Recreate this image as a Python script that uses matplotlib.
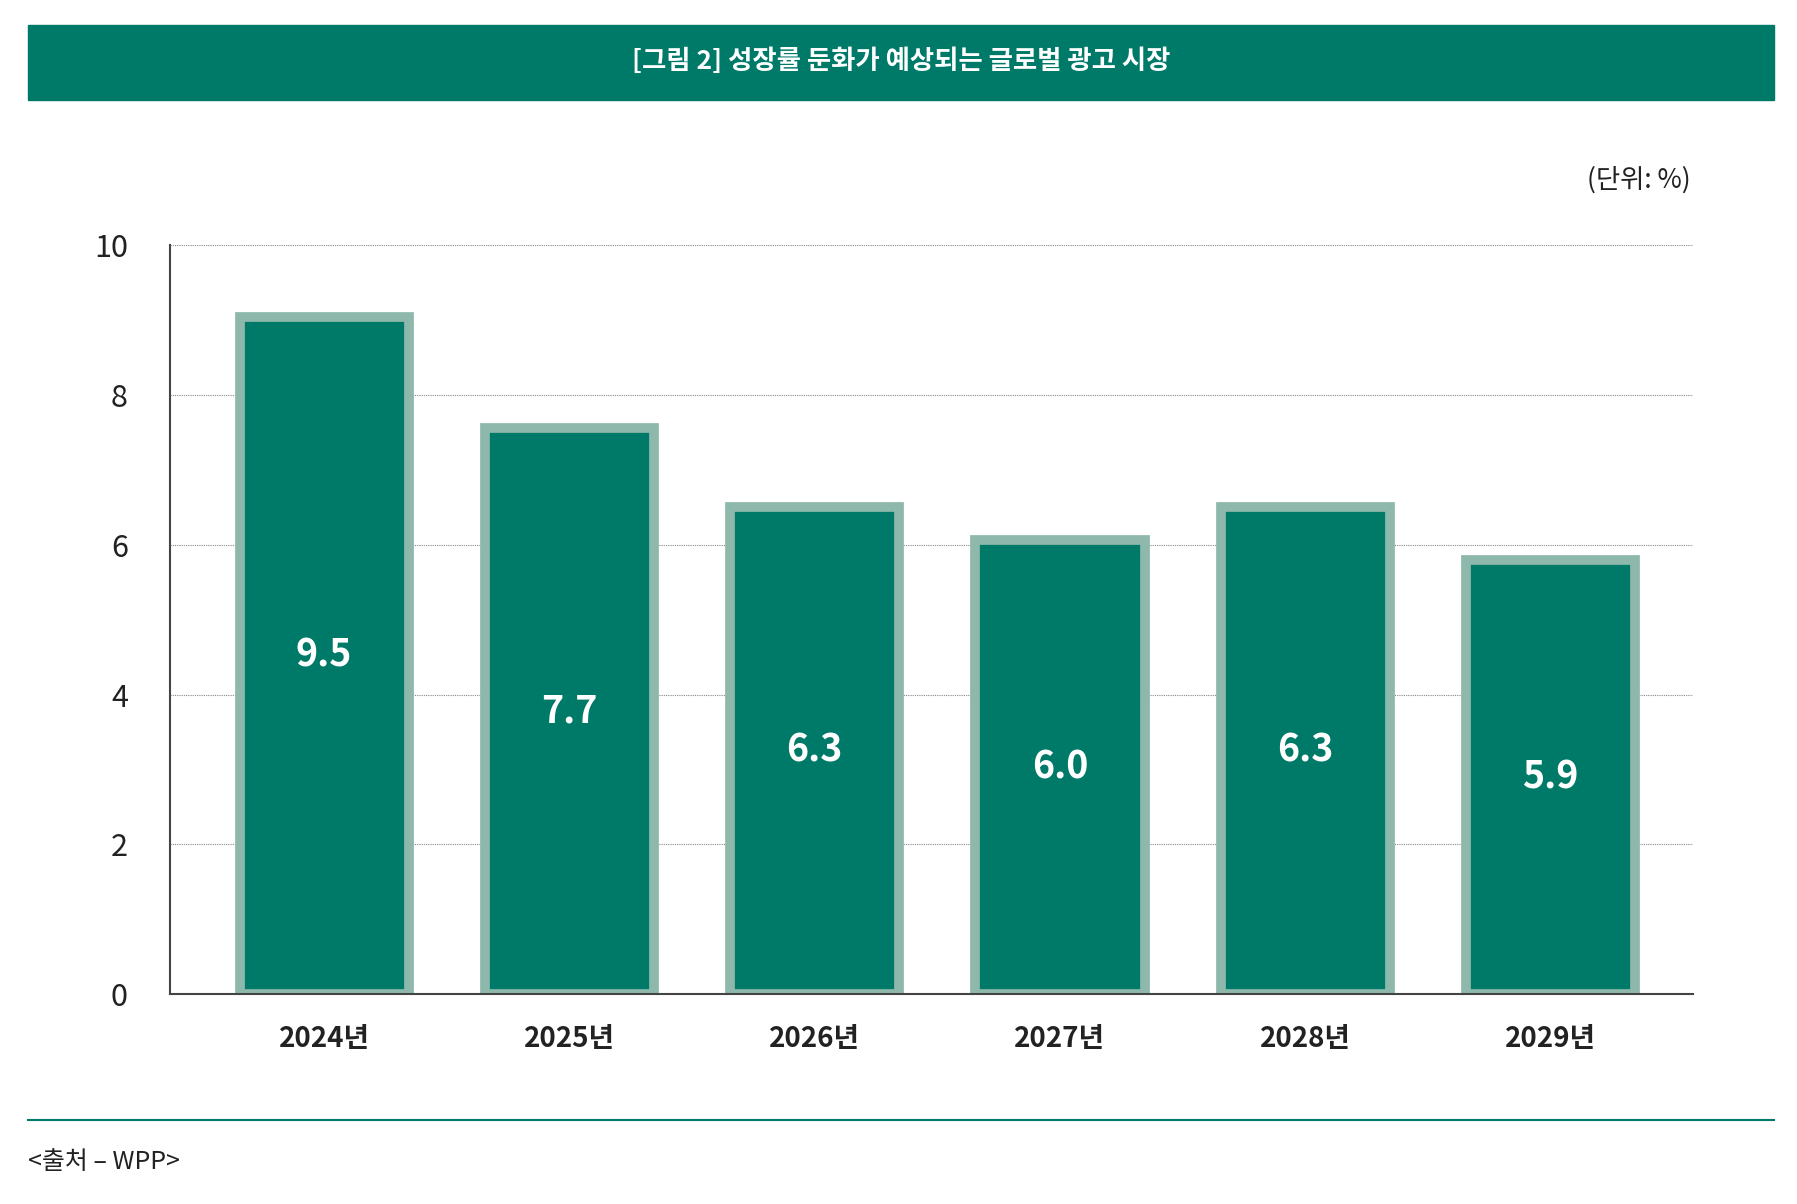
import matplotlib.pyplot as plt

plt.rcParams['font.family'] = ['Noto Sans CJK KR', 'DejaVu Sans']

years = ["2024년", "2025년", "2026년", "2027년", "2028년", "2029년"]
bar_heights = [9.05, 7.56, 6.51, 6.06, 6.51, 5.80]
value_labels = ["9.5", "7.7", "6.3", "6.0", "6.3", "5.9"]

W, H = 1568, 1050
green = "#007a68"
edge = "#8fb8ac"

fig = plt.figure(figsize=(17.97, 12.04), dpi=100)

# header band
fig.patches.append(plt.Rectangle((24 / W, 1 - 87 / H), (1548 - 24) / W, 65 / H,
                                 transform=fig.transFigure, color=green))
fig.text(786 / W, 1 - 54 / H, "[그림 2] 성장률 둔화가 예상되는 글로벌 광고 시장",
         color="white", fontsize=19, fontweight="bold", ha="center", va="center")

ax = fig.add_axes([148 / W, 1 - 867 / H, (1477 - 148) / W, (867 - 214) / H])
x = range(len(years))
ax.bar(x, bar_heights, width=0.69, color=green, edgecolor=edge, linewidth=7)
for i, (h, lab) in enumerate(zip(bar_heights, value_labels)):
    ax.text(i, h / 2, lab, color="white", fontsize=27, fontweight="bold",
            ha="center", va="center")

ax.set_xlim(-0.63, 5.58)
ax.set_ylim(0, 10)
ax.set_yticks([0, 2, 4, 6, 8, 10])
ax.set_xticks(list(x))
ax.set_xticklabels(years, fontsize=20, fontweight="bold", color="#222222")
ax.tick_params(axis="y", labelsize=22, length=0, pad=30, labelcolor="#222222")
ax.tick_params(axis="x", length=0, pad=22)
ax.grid(axis="y", color="#888888", linestyle=(0, (1, 1)), linewidth=0.8)
ax.set_axisbelow(True)
for s in ["top", "right"]:
    ax.spines[s].set_visible(False)
ax.spines["left"].set_color("#444444")
ax.spines["bottom"].set_color("#444444")
ax.spines["left"].set_linewidth(1.5)
ax.spines["bottom"].set_linewidth(1.5)

fig.text(1475 / W, 1 - 157 / H, "(단위: %)", fontsize=19, ha="right", va="center",
         color="#222222")

fig.add_artist(plt.Line2D([24 / W, 1548 / W], [1 - 977 / H, 1 - 977 / H],
                          color=green, linewidth=1.5))
fig.text(24 / W, 1 - 1013 / H, "<출처 – WPP>", fontsize=18, ha="left", va="center",
         color="#222222")

fig.savefig("out.png", dpi=100)
